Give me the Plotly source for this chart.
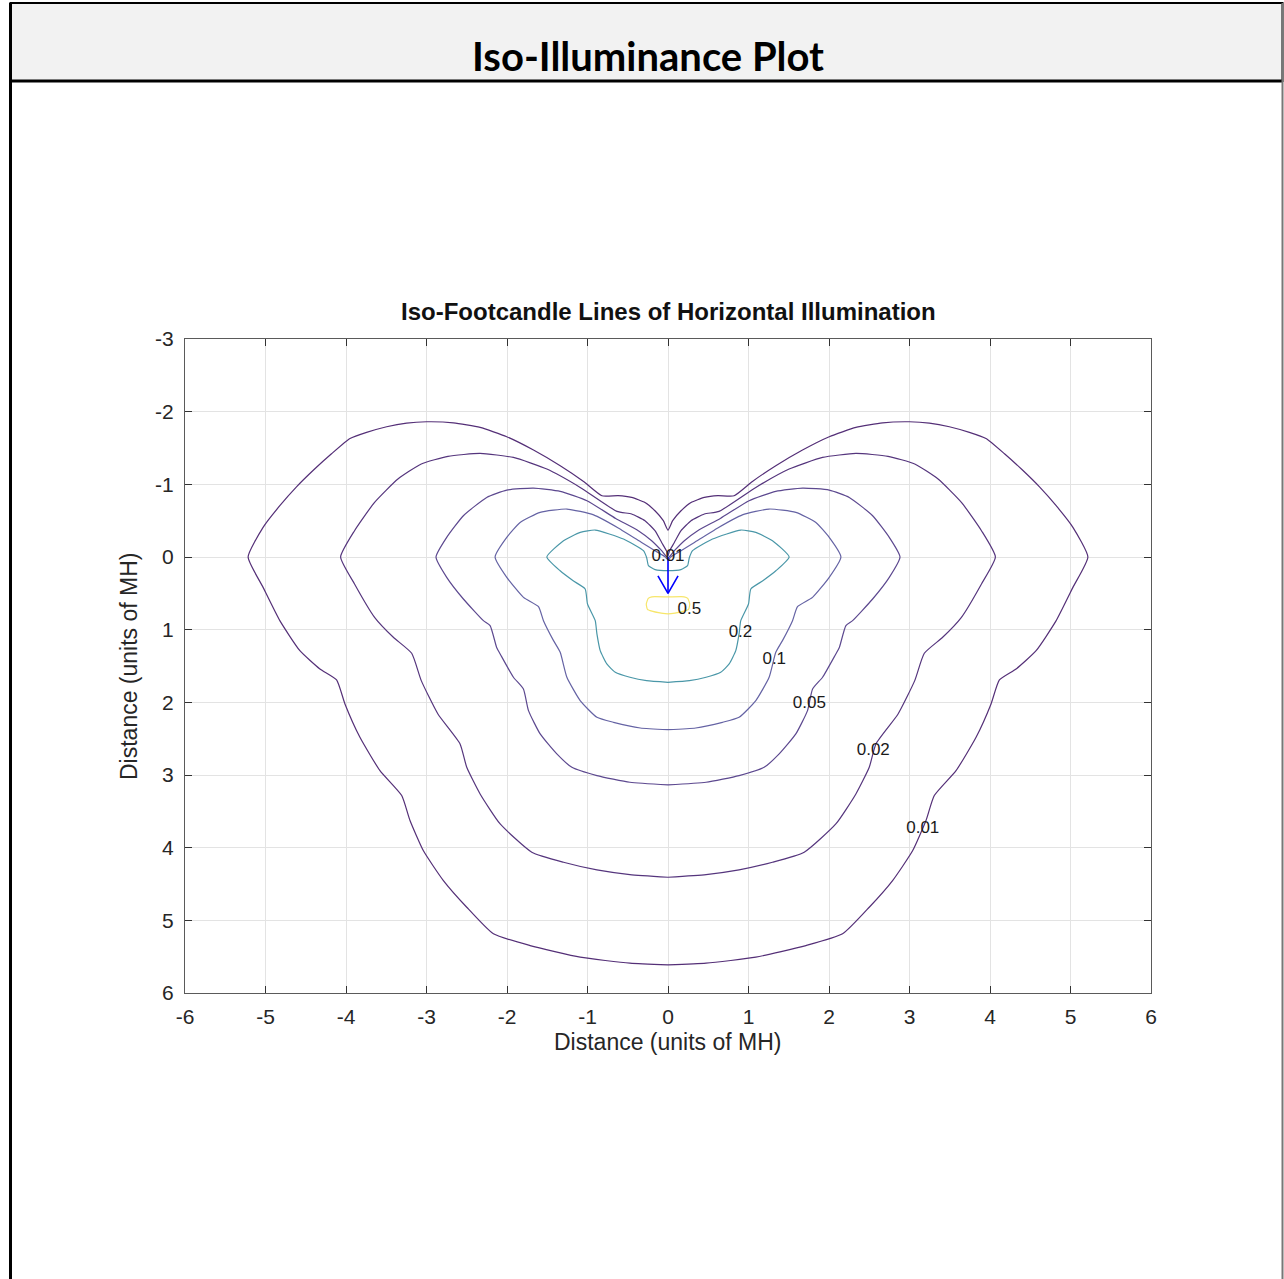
import plotly.graph_objects as go

# ---------------- data (left half of each symmetric iso-footcandle contour, from top centre round to bottom centre)
levels = ["0.01", "0.02", "0.05", "0.1", "0.2", "0.5"]

c001_x = [0, -0.058, -0.162, -0.286, -0.452, -0.62, -0.821, -1.049, -1.339, -1.671, -2.003, -2.334, -2.666, -2.998,
          -3.247, -3.495, -3.744, -3.95, -4.18, -4.4, -4.615, -4.822, -5.03, -5.216, -5.03, -4.822, -4.573, -4.324,
          -4.117, -4.013, -3.827, -3.578, -3.308, -3.205, -3.04, -2.79, -2.5, -2.169, -1.713, -1.091, -0.473, 0]
c001_y = [-0.37, -0.5, -0.636, -0.75, -0.82, -0.845, -0.843, -1.04, -1.256, -1.472, -1.655, -1.783, -1.847, -1.861,
          -1.843, -1.793, -1.715, -1.63, -1.42, -1.2, -0.965, -0.706, -0.408, 0, 0.418, 0.876, 1.289, 1.541,
          1.692, 2.022, 2.481, 2.94, 3.283, 3.627, 4.04, 4.453, 4.82, 5.186, 5.347, 5.507, 5.59, 5.613]

c002_x = [0, -0.017, -0.079, -0.162, -0.286, -0.452, -0.634, -1.091, -1.505, -1.92, -2.335, -2.733, -3.065, -3.355,
          -3.645, -3.894, -4.067, -3.894, -3.645, -3.412, -3.184, -3.065, -2.858, -2.583, -2.5, -2.334, -2.085,
          -1.692, -1.298, -0.883, -0.473, 0]
c002_y = [-0.02, -0.08, -0.2, -0.362, -0.5, -0.591, -0.628, -0.958, -1.21, -1.37, -1.425, -1.385, -1.28, -1.073,
          -0.752, -0.362, 0, 0.371, 0.83, 1.105, 1.325, 1.701, 2.16, 2.572, 2.894, 3.261, 3.674, 4.063, 4.201,
          4.306, 4.37, 4.407]

c005_x = [0, -0.079, -0.203, -0.369, -0.65, -1.007, -1.339, -1.672, -2.003, -2.252, -2.542, -2.749, -2.882, -2.749,
          -2.542, -2.293, -2.21, -2.127, -2.085, -1.92, -1.796, -1.733, -1.588, -1.381, -1.194, -0.883, -0.473, 0]
c005_y = [0.01, -0.087, -0.224, -0.362, -0.53, -0.775, -0.903, -0.949, -0.921, -0.82, -0.568, -0.27, 0, 0.28,
          0.578, 0.876, 0.945, 1.25, 1.334, 1.655, 1.816, 2.114, 2.435, 2.71, 2.894, 3.008, 3.1, 3.136]

c010_x = [0, -0.033, -0.162, -0.328, -0.618, -0.924, -1.256, -1.588, -1.837, -2.003, -2.148, -2.003, -1.795,
          -1.609, -1.547, -1.422, -1.339, -1.256, -1.091, -0.883, -0.676, -0.344, 0]
c010_y = [0.04, 0.0, -0.087, -0.2, -0.40, -0.58, -0.66, -0.614, -0.476, -0.27, 0, 0.28, 0.556, 0.684, 0.876,
          1.151, 1.312, 1.655, 1.976, 2.206, 2.275, 2.353, 2.376]

c020_x = [0, -0.16, -0.243, -0.264, -0.305, -0.553, -0.904, -1.09, -1.298, -1.505, -1.34, -1.178, -1.029, -1.0,
          -0.904, -0.883, -0.842, -0.76, -0.655, -0.473, -0.266, 0]
c020_y = [0.188, 0.174, 0.119, 0.014, -0.087, -0.247, -0.371, -0.339, -0.224, 0.0, 0.19, 0.327, 0.44, 0.647,
          0.876, 1.059, 1.289, 1.472, 1.587, 1.655, 1.701, 1.724]

c050_x = [0, -0.2, -0.245, -0.27, -0.255, -0.2, -0.1, 0]
c050_y = [0.55, 0.548, 0.57, 0.647, 0.72, 0.745, 0.77, 0.784]

contour_x = [c001_x, c002_x, c005_x, c010_x, c020_x, c050_x]
contour_y = [c001_y, c002_y, c005_y, c010_y, c020_y, c050_y]

# contour labels (MATLAB clabel positions)
label_text = ["0.01", "0.5", "0.2", "0.1", "0.05", "0.02", "0.01"]
label_x = [0.0, 0.265, 0.9, 1.32, 1.756, 2.55, 3.165]
label_y = [0.0, 0.725, 1.04, 1.41, 2.015, 2.66, 3.735]

# aiming arrow of the luminaire
arrow_shaft_x = [0, 0]
arrow_shaft_y = [0.0, 0.5]
arrow_head_x = [-0.125, 0, 0.125]
arrow_head_y = [0.26, 0.5, 0.26]

tick_vals_x = [-6, -5, -4, -3, -2, -1, 0, 1, 2, 3, 4, 5, 6]
tick_text_x = ["-6", "-5", "-4", "-3", "-2", "-1", "0", "1", "2", "3", "4", "5", "6"]
tick_vals_y = [-3, -2, -1, 0, 1, 2, 3, 4, 5, 6]
tick_text_y = ["-3", "-2", "-1", "0", "1", "2", "3", "4", "5", "6"]

# ---------------- styling
colors = ["#542f77", "#55357d", "#5c488f", "#6563a4", "#4a97a8", "#f7e66a"]
FONT = "Liberation Sans, Arial, Helvetica, sans-serif"

fig = go.Figure()

for lv, xs, ys, col in zip(levels, contour_x, contour_y, colors):
    full_x = list(xs) + [-v for v in reversed(xs)]
    full_y = list(ys) + list(reversed(ys))
    fig.add_trace(go.Scatter(x=full_x, y=full_y, mode="lines", name=lv,
                             line=dict(color=col, width=1.2, shape="spline", smoothing=0.5),
                             hoverinfo="skip", showlegend=False))

fig.add_trace(go.Scatter(x=arrow_shaft_x, y=arrow_shaft_y, mode="lines",
                         line=dict(color="#0000ff", width=1.6), showlegend=False, hoverinfo="skip"))
fig.add_trace(go.Scatter(x=arrow_head_x, y=arrow_head_y, mode="lines",
                         line=dict(color="#0000ff", width=1.6), showlegend=False, hoverinfo="skip"))

fig.add_trace(go.Scatter(x=label_x, y=label_y, mode="text", text=label_text,
                         textfont=dict(family=FONT, size=17, color="#1a1a1a"),
                         textposition="middle center", showlegend=False, hoverinfo="skip"))

axis_common = dict(
    showgrid=True, gridcolor="#e3e3e3", gridwidth=1,
    zeroline=False, showline=True, linecolor="#5a5a5a", linewidth=1.2,
    mirror="allticks", ticks="inside", ticklen=7, tickcolor="#333333", tickwidth=1,
    tickfont=dict(family=FONT, size=21, color="#262626"),
)

fig.update_layout(
    width=1284, height=1279,
    margin=dict(l=185, r=133, t=339, b=286),
    paper_bgcolor="white", plot_bgcolor="white",
    xaxis=dict(range=[-6, 6], tickvals=tick_vals_x, ticktext=tick_text_x, ticklabelstandoff=5, **axis_common),
    yaxis=dict(range=[6, -3], tickvals=tick_vals_y, ticktext=tick_text_y, ticklabelstandoff=6, **axis_common),
)

# page frame and header band (paper coordinates)
def px_x(p):
    return (p - 185) / 966.0

def px_y(p):
    return (993 - p) / 654.0

fig.add_shape(type="rect", xref="paper", yref="paper",
              x0=px_x(10.5), x1=px_x(1282.5), y0=px_y(81), y1=px_y(3),
              fillcolor="#f2f2f2", line=dict(color="black", width=2))
fig.add_shape(type="line", xref="paper", yref="paper",
              x0=px_x(10.5), x1=px_x(1283), y0=px_y(81), y1=px_y(81),
              line=dict(color="black", width=3))
fig.add_shape(type="line", xref="paper", yref="paper",
              x0=px_x(10.5), x1=px_x(10.5), y0=px_y(1285), y1=px_y(3),
              line=dict(color="black", width=3))
fig.add_shape(type="line", xref="paper", yref="paper",
              x0=px_x(1282.5), x1=px_x(1282.5), y0=px_y(1285), y1=px_y(3),
              line=dict(color="#777777", width=2))

fig.add_annotation(xref="paper", yref="paper", x=px_x(648), y=px_y(56),
                   text="<b>Iso-Illuminance Plot</b>", showarrow=False,
                   font=dict(family="Lato, Open Sans, sans-serif", size=40, color="black"),
                   xanchor="center", yanchor="middle")
fig.add_annotation(xref="paper", yref="paper", x=px_x(668), y=px_y(311),
                   text="<b>Iso-Footcandle Lines of Horizontal Illumination</b>", showarrow=False,
                   font=dict(family=FONT, size=24, color="#111111"),
                   xanchor="center", yanchor="middle")
fig.add_annotation(xref="paper", yref="paper", x=px_x(668), y=px_y(1042),
                   text="Distance (units of MH)", showarrow=False,
                   font=dict(family=FONT, size=23, color="#262626"),
                   xanchor="center", yanchor="middle")
fig.add_annotation(xref="paper", yref="paper", x=px_x(129), y=px_y(666),
                   text="Distance (units of MH)", showarrow=False, textangle=-90,
                   font=dict(family=FONT, size=23, color="#262626"),
                   xanchor="center", yanchor="middle")

fig.write_html("out.html", config={"displayModeBar": False},
               post_script="document.body.style.margin='0px';document.body.style.overflow='hidden';")
